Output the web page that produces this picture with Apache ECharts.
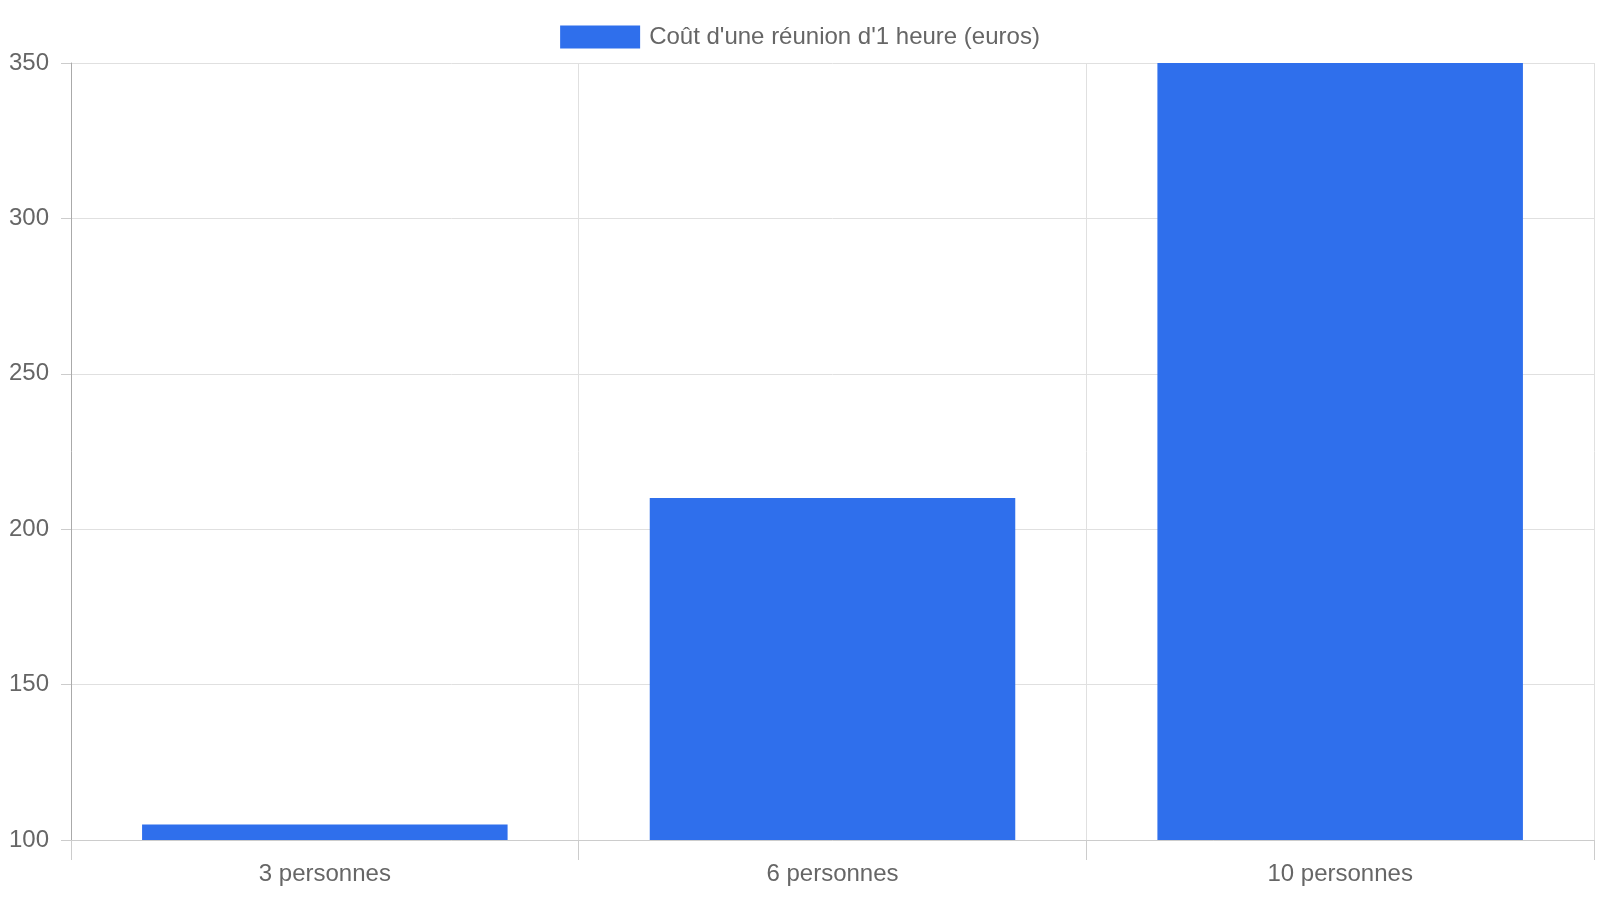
<!DOCTYPE html>
<html><head><meta charset="utf-8">
<script src="https://cdn.jsdelivr.net/npm/echarts@6/dist/echarts.min.js"></script>
<style>html,body{margin:0;padding:0;background:#fff}#c{width:1600px;height:900px}</style>
</head><body><div id="c"></div>
<script>
const categories = ["3 personnes", "6 personnes", "10 personnes"];
const values = [105, 210, 350];
const seriesName = "Coût d'une réunion d'1 heure (euros)";
const chart = echarts.init(document.getElementById('c'));
chart.setOption({
  animation: false,
  textStyle: { fontFamily: 'Liberation Sans' },
  legend: {
    top: 20, left: 'center', itemWidth: 80, itemHeight: 23, itemGap: 10,
    textStyle: { fontSize: 24, color: '#666', fontFamily: 'Liberation Sans', padding: [0, 0, 0, 4] },
    data: [{ name: seriesName, icon: 'rect' }]
  },
  grid: { left: 71, right: 6, top: 63, bottom: 60, containLabel: false },
  xAxis: {
    type: 'category', data: categories, boundaryGap: true,
    axisLine: { lineStyle: { color: '#ccc', width: 1 } },
    axisTick: { show: true, length: 20, lineStyle: { color: '#ccc' } },
    splitLine: { show: true, lineStyle: { color: '#e0e0e0' } },
    axisLabel: { fontSize: 24, color: '#666', margin: 22 }
  },
  yAxis: {
    type: 'value', min: 100, max: 350, interval: 50,
    axisLine: { show: true, lineStyle: { color: '#aaa' } },
    axisTick: { show: true, length: 10, lineStyle: { color: '#ccc' } },
    splitLine: { lineStyle: { color: '#e0e0e0' } },
    axisLabel: { fontSize: 24, color: '#666', margin: 22 }
  },
  series: [{
    name: seriesName, type: 'bar', data: values, barWidth: '72%',
    itemStyle: { color: '#2f6fec' }
  }]
});
</script></body></html>
